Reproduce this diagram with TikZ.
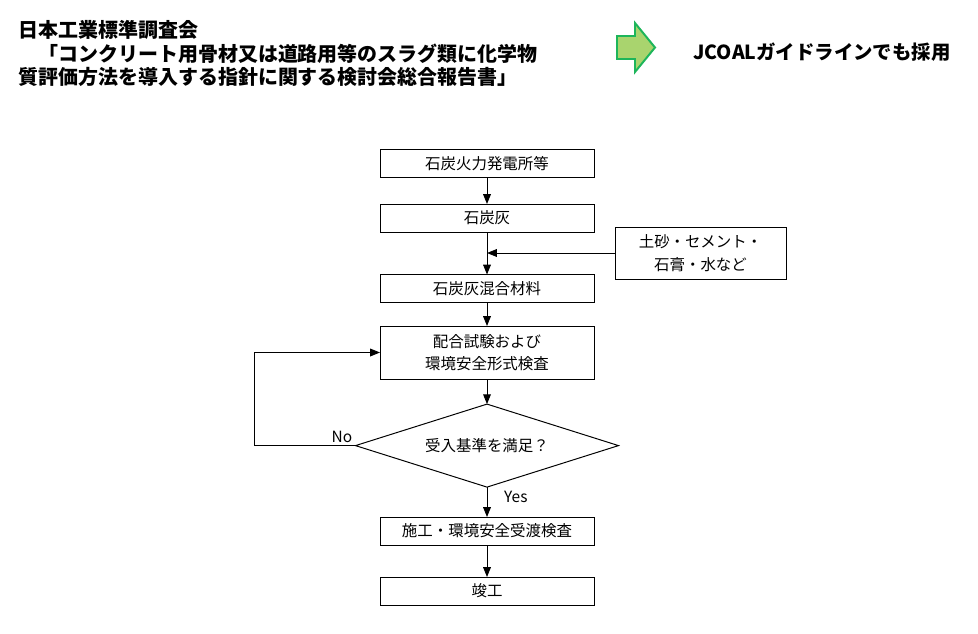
\documentclass[tikz,border=0pt]{standalone}
\usepackage{fontspec}
\setmainfont{Noto Sans CJK JP}
\usetikzlibrary{shapes.geometric,arrows.meta}
\definecolor{arrowfill}{HTML}{A9D46E}
\definecolor{arrowline}{HTML}{1DB55A}
\newcommand{\boxwidth}{5.35cm}
\newcommand{\boxheight}{0.7cm}
\newcommand{\colx}{12.175cm}
\newcommand{\planty}{-4.0875cm}
\newcommand{\ashy}{-5.45cm}
\newcommand{\mixy}{-7.2125cm}
\newcommand{\testy}{-8.8125cm}
\newcommand{\checky}{-11.14cm}
\newcommand{\buildy}{-13.275cm}
\newcommand{\doney}{-14.775cm}
\newcommand{\sidex}{17.5125cm}
\newcommand{\sidey}{-6.325cm}
\newcommand{\loopx}{6.35cm}

\begin{document}
\begin{tikzpicture}[>={Triangle[length=7pt,width=5.5pt]}, line width=0.7pt, font=\fontsize{11}{16}\selectfont]
\tikzstyle{box}=[draw, minimum width=\boxwidth, minimum height=\boxheight, outer sep=0pt, align=center]
\tikzstyle{decision}=[draw, diamond, aspect=3.17, minimum width=6.575cm, minimum height=2.075cm, inner sep=0pt, outer sep=0pt]
\tikzstyle{heading}=[anchor=north west, align=left, inner sep=0pt, font=\fontsize{14.2}{16.8}\selectfont\bfseries]

\useasboundingbox (0,0) rectangle (24.45,-15.85);

%% title and note
\node (title) [heading, xshift=.45cm, yshift=-.5cm] {日本工業標準調査会\\　「コンクリート用骨材又は道路用等のスラグ類に化学物\\質評価方法を導入する指針に関する検討会総合報告書」};
\filldraw[fill=arrowfill, draw=arrowline, line width=1.4pt] (15.425,-0.9) -- (15.875,-0.9) -- (15.875,-0.575) -- (16.375,-1.1875) -- (15.875,-1.8) -- (15.875,-1.475) -- (15.425,-1.475) -- cycle;
\node (jcoal) [anchor=west, inner sep=0pt, font=\fontsize{13.8}{16}\selectfont\bfseries, xshift=17.325cm, yshift=-1.3cm] {JCOALガイドラインでも採用};

%% main column
\node (plant) [box, xshift=\colx, yshift=\planty] {石炭火力発電所等};
\node (ash)   [box, xshift=\colx, yshift=\ashy] {石炭灰};
\node (mix)   [box, xshift=\colx, yshift=\mixy] {石炭灰混合材料};
\node (test)  [box, minimum height=1.325cm, xshift=\colx, yshift=\testy] {配合試験および\\環境安全形式検査};
\node (check) [decision, xshift=\colx, yshift=\checky] {受入基準を満足？};
\node (build) [box, xshift=\colx, yshift=\buildy] {施工・環境安全受渡検査};
\node (done)  [box, xshift=\colx, yshift=\doney] {竣工};

%% additives
\node (side) [box, minimum width=4.275cm, minimum height=1.3cm, xshift=\sidex, yshift=\sidey] {土砂・セメント・\\石膏・水など};

%% arrows
\draw[->] (plant) -- (ash);
\draw[->] (ash) -- (mix);
\draw[->] (side.west) -- (side.west -| ash.south);
\draw[->] (mix) -- (test);
\draw[->] (test) -- (check);
\draw[->] (check) -- (build);
\draw[->] (build) -- (done);

%% loop back
\coordinate (loopcorner) at (\loopx,\checky);
\draw[->] (check.west) -- (loopcorner) |- (test.west);
\node (nolabel) [above left, inner sep=2pt] at (check.west) {No};
\node (yeslabel) [anchor=west, xshift=.3cm, yshift=-.25cm] at (check.south) {Yes};

\end{tikzpicture}
\end{document}
